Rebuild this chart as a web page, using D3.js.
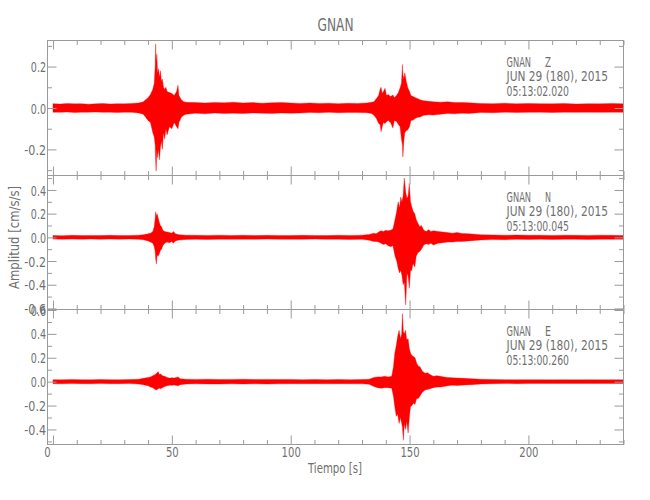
<!DOCTYPE html>
<html>
<head>
<meta charset="utf-8">
<script src="https://cdn.jsdelivr.net/npm/d3@7"></script>
<style>
  html, body { margin: 0; padding: 0; background: #fff; }
  svg { display: block; }
  text { font-family: 'DejaVu Sans Condensed', 'DejaVu Sans', sans-serif; fill: #707070; }
</style>
</head>
<body>
<svg id="chart" width="650" height="500"></svg>
<script>
// ---------------- DATA ----------------
const station = "GNAN";
const components = ["Z", "N", "E"];
const dateLabel = "JUN 29 (180), 2015";
const startTimes = ["05:13:02.020", "05:13:00.045", "05:13:00.260"];
const xTicksMajor = [0, 50, 100, 150, 200];
const xTicksMinor = [10,20,30,40,60,70,80,90,110,120,130,140,160,170,180,190,210,220,230,240];
const xDomain = [-2.3, 240];
const yDomains = [[-0.326, 0.326], [-0.609, 0.522], [-0.526, 0.604]];

// envelope of each trace: [time s, max amplitude, min amplitude] (cm/s/s)
const traceZ = [
  [0,0.021,-0.020],[3,0.019,-0.021],[6,0.022,-0.019],[9,0.020,-0.022],[12,0.021,-0.020],[15,0.018,-0.020],
  [18,0.020,-0.019],[21,0.022,-0.021],[24,0.019,-0.020],[27,0.021,-0.022],[30,0.020,-0.020],[33,0.022,-0.021],
  [36,0.024,-0.024],[38,0.030,-0.030],[39,0.040,-0.045],[40,0.050,-0.060],[41,0.065,-0.070],[42,0.090,-0.120],
  [42.6,0.120,-0.140],[43,0.200,-0.180],[43.2,0.310,-0.260],[43.4,0.220,-0.305],[43.7,0.260,-0.200],
  [44,0.170,-0.240],[44.4,0.190,-0.200],[44.8,0.150,-0.250],[45.2,0.180,-0.190],[45.6,0.130,-0.160],
  [46,0.140,-0.200],[46.5,0.100,-0.120],[47,0.090,-0.150],[47.5,0.100,-0.100],[48,0.080,-0.130],
  [49,0.075,-0.090],[50,0.070,-0.100],[51,0.060,-0.070],[52,0.080,-0.090],[52.6,0.110,-0.100],
  [53,0.060,-0.070],[54,0.040,-0.045],[55,0.030,-0.035],[56,0.028,-0.030],
  [60,0.026,-0.025],[64,0.024,-0.028],[68,0.027,-0.024],[72,0.025,-0.026],[76,0.028,-0.025],[80,0.024,-0.027],
  [84,0.026,-0.024],[88,0.023,-0.025],[92,0.025,-0.026],[96,0.027,-0.024],[100,0.024,-0.025],[104,0.022,-0.024],
  [108,0.024,-0.022],[112,0.022,-0.023],[116,0.023,-0.021],[120,0.021,-0.023],[124,0.023,-0.022],[128,0.022,-0.022],
  [132,0.024,-0.023],[134,0.028,-0.026],[135,0.030,-0.035],[136,0.045,-0.050],[137,0.060,-0.075],
  [137.6,0.090,-0.080],[138,0.100,-0.115],[138.5,0.070,-0.090],[139,0.080,-0.070],[139.7,0.095,-0.075],
  [140.3,0.060,-0.066],[141,0.065,-0.060],[142,0.055,-0.070],[143,0.063,-0.097],[143.6,0.050,-0.060],
  [144.5,0.060,-0.065],[145.3,0.075,-0.080],[146,0.097,-0.090],[146.6,0.120,-0.150],[147,0.210,-0.180],
  [147.2,0.160,-0.237],[147.6,0.140,-0.160],[148,0.170,-0.120],[148.6,0.130,-0.110],[149.2,0.100,-0.106],
  [150,0.080,-0.090],[150.6,0.060,-0.060],[151.5,0.055,-0.058],[152.5,0.050,-0.050],[153.5,0.045,-0.045],
  [154.4,0.040,-0.043],[156,0.035,-0.035],[158,0.032,-0.033],[160,0.030,-0.034],[163,0.028,-0.030],
  [166,0.030,-0.027],[169,0.026,-0.028],[172,0.027,-0.025],[175,0.025,-0.026],[180,0.022,-0.022],
  [185,0.021,-0.023],[190,0.023,-0.020],[195,0.020,-0.022],[200,0.022,-0.021],[205,0.021,-0.020],
  [210,0.020,-0.022],[215,0.022,-0.020],[220,0.019,-0.021],[225,0.021,-0.020],[230,0.020,-0.021],
  [235,0.022,-0.020],[240,0.020,-0.021]
];
const traceN = [
  [0,0.016,-0.015],[4,0.014,-0.016],[8,0.017,-0.015],[12,0.015,-0.016],[16,0.016,-0.014],[20,0.015,-0.017],
  [24,0.017,-0.015],[28,0.016,-0.016],[32,0.015,-0.015],[36,0.018,-0.017],[38,0.022,-0.020],[40,0.030,-0.030],
  [41,0.035,-0.040],[42,0.050,-0.050],[42.6,0.090,-0.080],[43,0.160,-0.120],[43.2,0.216,-0.180],
  [43.5,0.180,-0.225],[43.8,0.200,-0.150],[44.2,0.170,-0.160],[44.7,0.130,-0.140],[45.2,0.100,-0.110],
  [45.7,0.090,-0.100],[46.2,0.060,-0.070],[47,0.050,-0.050],[48,0.045,-0.040],[49,0.040,-0.045],
  [50,0.035,-0.035],[50.6,0.050,-0.050],[51.5,0.030,-0.030],[53,0.022,-0.022],[56,0.018,-0.018],
  [60,0.017,-0.016],[65,0.016,-0.018],[70,0.018,-0.016],[75,0.016,-0.017],[80,0.017,-0.016],[85,0.015,-0.017],
  [90,0.017,-0.015],[95,0.016,-0.016],[100,0.015,-0.017],[105,0.017,-0.016],[110,0.016,-0.015],[115,0.015,-0.017],
  [120,0.017,-0.016],[125,0.016,-0.018],[130,0.018,-0.017],[133,0.025,-0.025],[135,0.035,-0.035],
  [136,0.030,-0.035],[137,0.045,-0.040],[138,0.055,-0.050],[139,0.050,-0.060],[140,0.060,-0.055],
  [141,0.055,-0.070],[142,0.060,-0.080],[143,0.070,-0.070],[143.9,0.150,-0.160],[144.6,0.220,-0.200],
  [145.2,0.300,-0.260],[145.8,0.250,-0.300],[146.3,0.340,-0.280],[146.8,0.300,-0.320],[147.3,0.350,-0.400],
  [147.8,0.500,-0.380],[148.4,0.380,-0.570],[148.9,0.330,-0.300],[149.4,0.350,-0.330],[149.9,0.455,-0.430],
  [150.4,0.300,-0.280],[150.9,0.260,-0.280],[151.5,0.220,-0.220],[152.2,0.200,-0.250],[152.8,0.150,-0.160],
  [153.5,0.120,-0.130],[154.3,0.090,-0.120],[155,0.100,-0.100],[156,0.060,-0.065],[157,0.050,-0.055],
  [158,0.065,-0.060],[159,0.050,-0.050],[160,0.055,-0.065],[162,0.050,-0.050],[164,0.045,-0.045],
  [166,0.040,-0.040],[168,0.035,-0.040],[170,0.040,-0.035],[172,0.033,-0.035],[175,0.030,-0.030],
  [180,0.022,-0.022],[185,0.020,-0.019],[190,0.018,-0.020],[195,0.019,-0.017],[200,0.017,-0.018],
  [205,0.018,-0.016],[210,0.016,-0.018],[215,0.018,-0.017],[220,0.017,-0.016],[225,0.016,-0.018],
  [230,0.018,-0.017],[235,0.017,-0.016],[240,0.016,-0.017]
];
const traceE = [
  [0,0.017,-0.017],[4,0.016,-0.018],[8,0.018,-0.016],[12,0.017,-0.017],[16,0.016,-0.018],[20,0.018,-0.016],
  [24,0.017,-0.018],[28,0.016,-0.017],[32,0.018,-0.016],[36,0.020,-0.020],[38,0.028,-0.026],[40,0.035,-0.035],
  [41,0.040,-0.045],[42,0.050,-0.050],[43,0.060,-0.065],[43.6,0.070,-0.070],[44.2,0.084,-0.060],
  [44.8,0.060,-0.055],[45.4,0.065,-0.060],[46,0.050,-0.050],[47,0.045,-0.040],[48,0.035,-0.035],
  [49,0.030,-0.030],[50,0.032,-0.030],[51,0.030,-0.028],[52.6,0.040,-0.035],[53.5,0.025,-0.025],
  [56,0.020,-0.020],[60,0.019,-0.018],[65,0.020,-0.019],[70,0.018,-0.020],[75,0.019,-0.018],[80,0.020,-0.019],
  [85,0.018,-0.018],[90,0.019,-0.020],[95,0.018,-0.018],[100,0.019,-0.017],[105,0.017,-0.018],[110,0.018,-0.017],
  [115,0.017,-0.018],[120,0.018,-0.017],[125,0.017,-0.018],[130,0.018,-0.018],[133,0.020,-0.022],
  [135,0.035,-0.040],[136.5,0.040,-0.050],[138,0.040,-0.055],[139.5,0.045,-0.050],[141,0.040,-0.050],
  [142.5,0.045,-0.055],[143.2,0.120,-0.120],[143.8,0.240,-0.210],[144.4,0.300,-0.290],[145,0.380,-0.270],
  [145.6,0.430,-0.350],[146.2,0.360,-0.300],[146.7,0.400,-0.350],[147,0.570,-0.380],[147.4,0.420,-0.490],
  [147.8,0.400,-0.350],[148.3,0.430,-0.400],[148.8,0.350,-0.330],[149.4,0.360,-0.430],[149.9,0.280,-0.300],
  [150.4,0.240,-0.210],[151,0.220,-0.200],[151.6,0.210,-0.180],[152.3,0.200,-0.190],[153,0.155,-0.140],
  [153.7,0.130,-0.140],[154.4,0.125,-0.120],[155.3,0.090,-0.090],[156.5,0.070,-0.070],[157.5,0.075,-0.065],
  [158.6,0.060,-0.060],[160,0.045,-0.050],[161.5,0.050,-0.045],[163,0.045,-0.045],[164.5,0.040,-0.040],
  [166,0.035,-0.035],[168,0.033,-0.030],[170,0.030,-0.032],[173,0.028,-0.027],[176,0.025,-0.025],
  [180,0.020,-0.020],[185,0.018,-0.017],[190,0.017,-0.016],[195,0.016,-0.017],[200,0.017,-0.016],
  [205,0.016,-0.015],[210,0.015,-0.016],[215,0.016,-0.015],[220,0.015,-0.016],[225,0.016,-0.015],
  [230,0.015,-0.016],[235,0.016,-0.015],[240,0.015,-0.016]
];
const traces = [traceZ, traceN, traceE];

// ---------------- LAYOUT ----------------
const svg = d3.select("#chart");
const left = 47.5, right = 623.5;
const panelEdges = [40.5, 175.5, 309.5, 444.5];
const axisColor = "#9a9a9a";
const textColor = "#707070";
const traceColor = "#ff0000";

const x = d3.scaleLinear().domain(xDomain).range([left, right]);

function fmt(v) {
  if (Math.abs(v) < 1e-9) return "0.0";
  return (v < 0 ? "-" : "") + Math.abs(v).toFixed(1);
}
// narrow (plotter-font like) width of a numeric label
function labelWidth(s) {
  let w = 0;
  for (const c of String(s)) w += (c === ".") ? 2.4 : (c === "-") ? 6.5 : 6.4;
  return w;
}

traces.forEach((trace, i) => {
  const top = panelEdges[i], bottom = panelEdges[i + 1];
  const y = d3.scaleLinear().domain(yDomains[i]).range([bottom, top]);
  const g = svg.append("g");

  // waveform envelope
  const area = d3.area()
    .x(d => x(d[0]))
    .y0(d => y(d[2]))
    .y1(d => y(d[1]))
    .curve(d3.curveLinear);
  g.append("path")
    .datum(trace)
    .attr("d", area)
    .attr("fill", traceColor)
    .attr("stroke", traceColor)
    .attr("stroke-width", 0.6)
    .attr("stroke-opacity", 0.6);

  // y ticks
  const [lo, hi] = yDomains[i];
  const major = [], minor = [];
  for (let k = Math.ceil(lo / 0.1 - 1e-9); k <= Math.floor(hi / 0.1 + 1e-9); k++) {
    (k % 2 === 0 ? major : minor).push(k / 10);
  }
  const yl = g.append("g").attr("transform", `translate(${left},0)`)
    .call(d3.axisLeft(y).tickValues(major).tickSize(-9).tickPadding(1.5).tickFormat(fmt));
  const ylm = g.append("g").attr("transform", `translate(${left},0)`)
    .call(d3.axisLeft(y).tickValues(minor).tickSize(-4.5).tickFormat(""));
  const yr = g.append("g").attr("transform", `translate(${right},0)`)
    .call(d3.axisRight(y).tickValues(major).tickSize(-9).tickFormat(""));
  const yrm = g.append("g").attr("transform", `translate(${right},0)`)
    .call(d3.axisRight(y).tickValues(minor).tickSize(-4.5).tickFormat(""));

  // x ticks top and bottom of panel
  const xt = g.append("g").attr("transform", `translate(0,${top})`)
    .call(d3.axisTop(x).tickValues(xTicksMajor).tickSize(-9).tickFormat(""));
  const xtm = g.append("g").attr("transform", `translate(0,${top})`)
    .call(d3.axisTop(x).tickValues(xTicksMinor).tickSize(-4.5).tickFormat(""));
  const xb = g.append("g").attr("transform", `translate(0,${bottom})`)
    .call(d3.axisBottom(x).tickValues(xTicksMajor).tickSize(-9).tickPadding(3)
      .tickFormat(i === 2 ? d3.format("d") : ""));
  const xbm = g.append("g").attr("transform", `translate(0,${bottom})`)
    .call(d3.axisBottom(x).tickValues(xTicksMinor).tickSize(-4.5).tickFormat(""));

  [yl, ylm, yr, yrm, xt, xtm, xb, xbm].forEach(a => {
    a.select(".domain").remove();
    a.selectAll("line").attr("stroke", axisColor);
    a.selectAll("text").attr("fill", textColor)
      .style("font-family", "'DejaVu Sans Condensed', 'DejaVu Sans', sans-serif")
      .attr("font-size", 14)
      .attr("lengthAdjust", "spacingAndGlyphs")
      .attr("textLength", function () { return labelWidth(this.textContent); });
  });
  yl.selectAll("text").attr("dy", "0.36em");
  if (i === 2) {
    xb.selectAll("text").attr("dy", "0.71em")
      .filter(d => d === 0).attr("x", -6);
  }

  // frame
  g.append("rect")
    .attr("x", left).attr("y", top)
    .attr("width", right - left).attr("height", bottom - top)
    .attr("fill", "none").attr("stroke", axisColor).attr("stroke-width", 1);

  // annotation
  const t1 = g.append("text").attr("font-size", 14).attr("y", top + 26);
  t1.append("tspan").attr("x", 506.5).attr("textLength", 24.5)
    .attr("lengthAdjust", "spacingAndGlyphs").text(station);
  t1.append("tspan").attr("x", 545).attr("textLength", 6)
    .attr("lengthAdjust", "spacingAndGlyphs").text(components[i]);
  g.append("text").attr("font-size", 14).attr("x", 506.5).attr("y", top + 40.5)
    .attr("textLength", 101.5).attr("lengthAdjust", "spacingAndGlyphs").text(dateLabel);
  g.append("text").attr("font-size", 14).attr("x", 506.5).attr("y", top + 55)
    .attr("textLength", 62.5).attr("lengthAdjust", "spacingAndGlyphs").text(startTimes[i]);
});

// title and axis labels
svg.append("text").attr("x", 335.5).attr("y", 31).attr("text-anchor", "middle")
  .attr("font-size", 18).attr("textLength", 36).attr("lengthAdjust", "spacingAndGlyphs")
  .text(station);
svg.append("text").attr("x", 335).attr("y", 473).attr("text-anchor", "middle")
  .attr("font-size", 14).attr("textLength", 54).attr("lengthAdjust", "spacingAndGlyphs")
  .text("Tiempo [s]");
svg.append("text").attr("transform", "translate(18.5,237.5) rotate(-90)")
  .attr("text-anchor", "middle").attr("font-size", 14)
  .attr("textLength", 103).attr("lengthAdjust", "spacingAndGlyphs")
  .text("Amplitud [cm/s/s]");
</script>
</body>
</html>
